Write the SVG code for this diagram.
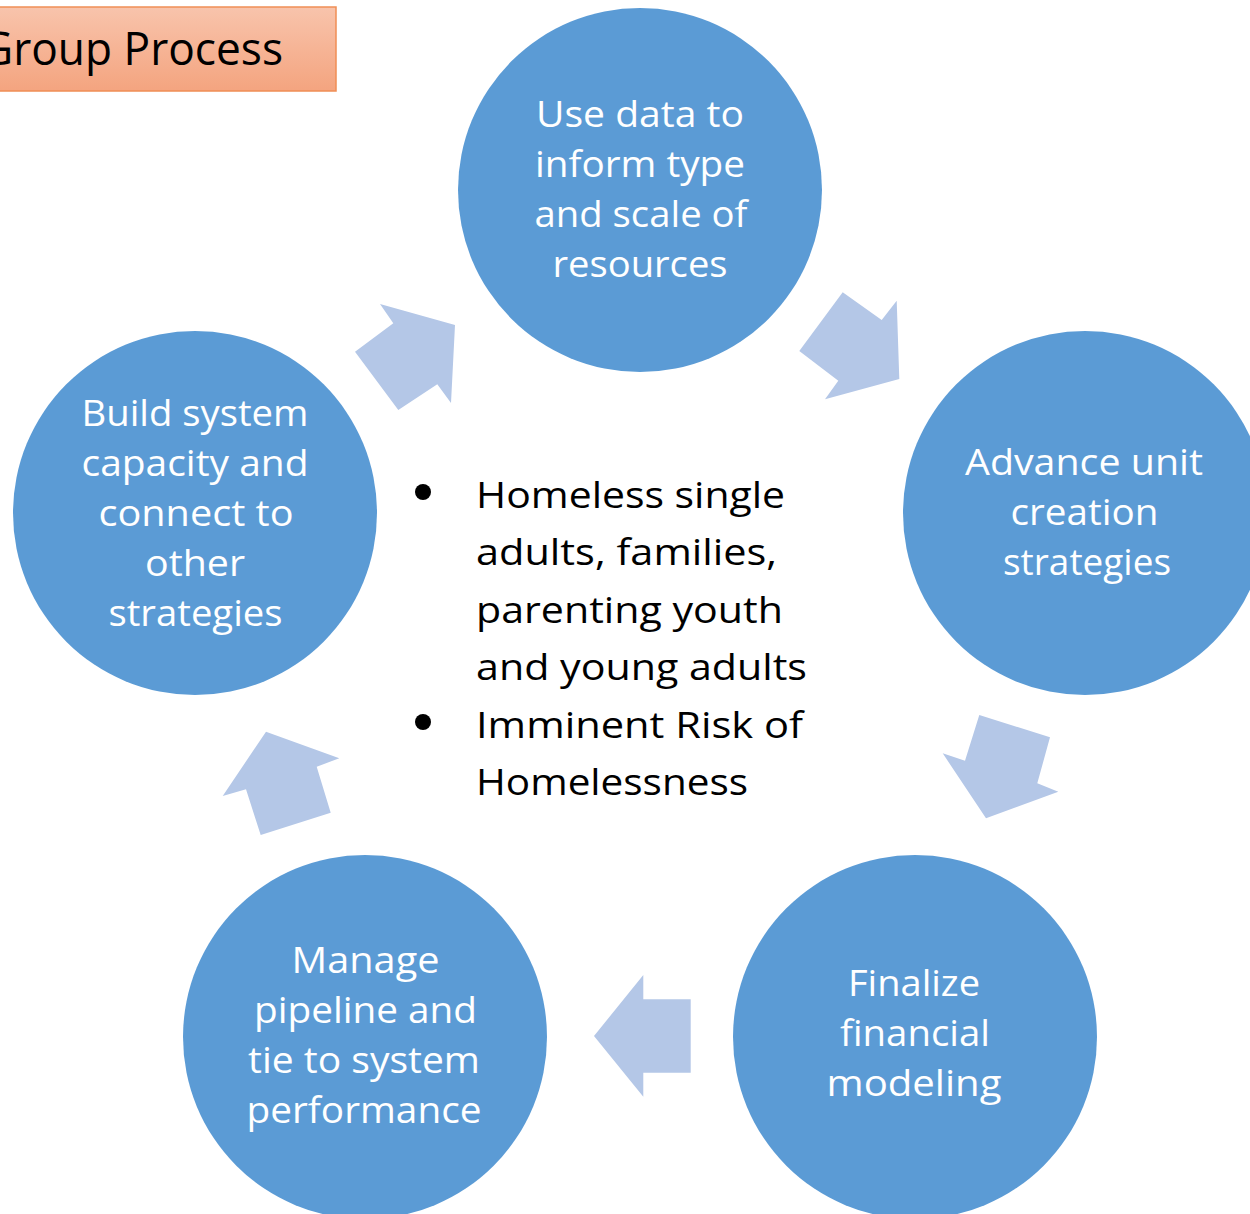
<svg xmlns="http://www.w3.org/2000/svg" width="1250" height="1214" viewBox="0 0 1250 1214">
  <defs>
    <linearGradient id="titleGrad" x1="0" y1="0" x2="0" y2="1">
      <stop offset="0" stop-color="#F8C4AC"/>
      <stop offset="1" stop-color="#F4A47F"/>
    </linearGradient>
  </defs>
  <style>
    .node { fill: #5B9BD5; }
    .ntext { font-family: "Open Sans", "Liberation Sans", sans-serif; font-size: 36px; fill: #FFFFFF; text-anchor: middle; }
    .ctext { font-family: "Open Sans", "Liberation Sans", sans-serif; font-size: 36px; fill: #000000; }
    .arrow { fill: #B4C7E7; }
    .title { font-family: "Open Sans", "Liberation Sans", sans-serif; font-size: 46px; fill: #000000; }
  </style>
  <rect width="1250" height="1214" fill="#FFFFFF"/>

  <g id="title">
    <rect x="-10" y="7" width="346" height="84" fill="url(#titleGrad)" stroke="#F08E55" stroke-width="1.5"/>
    <text class="title" x="-19" y="65" textLength="302" lengthAdjust="spacingAndGlyphs">Group Process</text>
  </g>

  <g id="connectors">
    <polygon class="arrow" points="380,304 455,325 451,403 437.3,384.3 398.3,410 355,351.7 393.3,323.3"/>
    <polygon class="arrow" points="842.7,292.3 881.7,320 896.7,300.7 899.3,379 825,399.3 838.3,380.7 799.3,351"/>
    <polygon class="arrow" points="979.3,715 1050,737.3 1037.3,783.3 1058.3,791.7 986,818.3 942.7,753.3 965,760.7"/>
    <polygon class="arrow" points="643.3,975 643.3,999.3 690.7,999.3 690.7,1072.7 643.3,1072.7 643.3,1096.7 594,1036"/>
    <polygon class="arrow" points="266,731.7 339.3,758.3 316.7,766.7 330.7,812.7 260.7,835 246,789.3 222.7,796"/>
  </g>

  <g id="node-data">
    <circle class="node" cx="640" cy="190" r="182"/>
    <text class="ntext" x="640" y="127" textLength="208" lengthAdjust="spacingAndGlyphs">Use data to</text>
    <text class="ntext" x="640" y="177" textLength="210" lengthAdjust="spacingAndGlyphs">inform type</text>
    <text class="ntext" x="641" y="227" textLength="213" lengthAdjust="spacingAndGlyphs">and scale of</text>
    <text class="ntext" x="640" y="277" textLength="175" lengthAdjust="spacingAndGlyphs">resources</text>
  </g>

  <g id="node-advance">
    <circle class="node" cx="1085" cy="513" r="182"/>
    <text class="ntext" x="1084" y="475" textLength="238" lengthAdjust="spacingAndGlyphs">Advance unit</text>
    <text class="ntext" x="1084.5" y="525" textLength="148" lengthAdjust="spacingAndGlyphs">creation</text>
    <text class="ntext" x="1087" y="575" textLength="168" lengthAdjust="spacingAndGlyphs">strategies</text>
  </g>

  <g id="node-finalize">
    <circle class="node" cx="915" cy="1037" r="182"/>
    <text class="ntext" x="914" y="996" textLength="132" lengthAdjust="spacingAndGlyphs">Finalize</text>
    <text class="ntext" x="915" y="1046" textLength="150" lengthAdjust="spacingAndGlyphs">financial</text>
    <text class="ntext" x="914" y="1096" textLength="175" lengthAdjust="spacingAndGlyphs">modeling</text>
  </g>

  <g id="node-manage">
    <circle class="node" cx="365" cy="1037" r="182"/>
    <text class="ntext" x="365.5" y="973" textLength="148" lengthAdjust="spacingAndGlyphs">Manage</text>
    <text class="ntext" x="365.5" y="1023" textLength="223" lengthAdjust="spacingAndGlyphs">pipeline and</text>
    <text class="ntext" x="364" y="1073" textLength="232" lengthAdjust="spacingAndGlyphs">tie to system</text>
    <text class="ntext" x="364" y="1123" textLength="235" lengthAdjust="spacingAndGlyphs">performance</text>
  </g>

  <g id="node-build">
    <circle class="node" cx="195" cy="513" r="182"/>
    <text class="ntext" x="195" y="426" textLength="227" lengthAdjust="spacingAndGlyphs">Build system</text>
    <text class="ntext" x="195" y="476" textLength="227" lengthAdjust="spacingAndGlyphs">capacity and</text>
    <text class="ntext" x="196" y="526" textLength="195" lengthAdjust="spacingAndGlyphs">connect to</text>
    <text class="ntext" x="195" y="576" textLength="100" lengthAdjust="spacingAndGlyphs">other</text>
    <text class="ntext" x="195.5" y="626" textLength="174" lengthAdjust="spacingAndGlyphs">strategies</text>
  </g>

  <g id="center-text">
    <circle cx="423" cy="492" r="8" fill="#000000"/>
    <circle cx="423" cy="722" r="8" fill="#000000"/>
    <text class="ctext" x="476" y="508" textLength="309" lengthAdjust="spacingAndGlyphs">Homeless single</text>
    <text class="ctext" x="476" y="565" textLength="301" lengthAdjust="spacingAndGlyphs">adults, families,</text>
    <text class="ctext" x="476" y="623" textLength="307" lengthAdjust="spacingAndGlyphs">parenting youth</text>
    <text class="ctext" x="476" y="680" textLength="331" lengthAdjust="spacingAndGlyphs">and young adults</text>
    <text class="ctext" x="476" y="738" textLength="327" lengthAdjust="spacingAndGlyphs">Imminent Risk of</text>
    <text class="ctext" x="476" y="795" textLength="272" lengthAdjust="spacingAndGlyphs">Homelessness</text>
  </g>
</svg>
